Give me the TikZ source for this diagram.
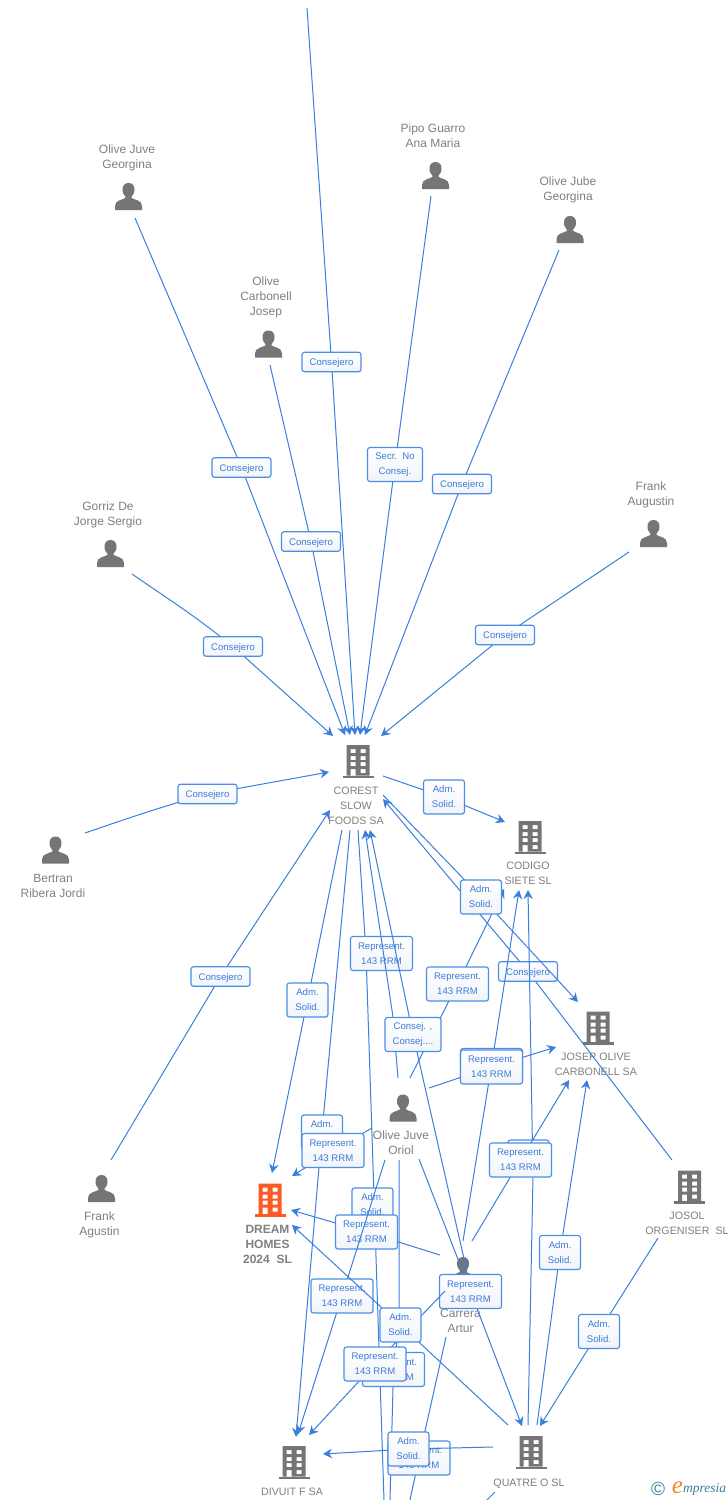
\documentclass[tikz,border=0pt]{standalone}
\usepackage{fontspec}
\setmainfont{Liberation Sans}
\newfontfamily\logofont{Liberation Serif}
\usetikzlibrary{arrows.meta}
\definecolor{linkblue}{HTML}{3B7FDE}
\definecolor{boxedge}{HTML}{4C8DE6}
\definecolor{boxtext}{HTML}{3B7BD8}
\definecolor{boxlow}{HTML}{F1F4F9}
\definecolor{iconpale}{HTML}{757575}
\definecolor{iconhot}{HTML}{FF5A26}
\definecolor{nametext}{HTML}{808080}
\definecolor{logoteal}{HTML}{3C7F99}
\definecolor{logoorange}{HTML}{F28A1E}
\newcommand\personicon{\begin{tikzpicture}[x=1pt,y=-1pt]
\fill[iconpale] (0,-13.5) .. controls (-4.2,-13.5) and (-6,-10.5) .. (-6,-7)
 .. controls (-6,-3.5) and (-4.5,-1.5) .. (-3.2,0) -- (-3.2,1.5)
 .. controls (-6,3.5) and (-13.5,3.5) .. (-13.5,9.5) -- (-13.5,13.5) -- (13.5,13.5) -- (13.5,9.5)
 .. controls (13.5,3.5) and (6,3.5) .. (3.2,1.5) -- (3.2,0)
 .. controls (4.5,-1.5) and (6,-3.5) .. (6,-7)
 .. controls (6,-10.5) and (4.2,-13.5) .. (0,-13.5) -- cycle;
\end{tikzpicture}}
\newcommand\buildingicon[1]{\begin{tikzpicture}[x=1pt,y=-1pt]
\fill[#1,even odd rule] (-11.5,-16.5) rectangle (11.5,14)
 (-7.5,-12.5) rectangle (-2.5,-8.5) (2.5,-12.5) rectangle (7.5,-8.5)
 (-7.5,-5.5) rectangle (-2.5,-1.5) (2.5,-5.5) rectangle (7.5,-1.5)
 (-7.5,0.5) rectangle (-2.5,4.5) (2.5,0.5) rectangle (7.5,4.5)
 (-7.5,7.5) rectangle (-2.5,14) (2.5,7.5) rectangle (7.5,11.5);
\fill[#1] (-15.5,14) rectangle (15.5,16.5);
\end{tikzpicture}}
\tikzset{
 conn/.style={draw=linkblue,line width=1pt},
 arr/.style={conn,-{Stealth[length=9pt,width=9.5pt,inset=3pt]}},
 tagbox/.style={draw=boxedge,line width=1.15pt,rounded corners=2.5pt,top color=white,bottom color=boxlow,
  text=boxtext,font=\fontsize{9.6}{15}\selectfont,align=center,inner sep=0pt},
 tagrep/.style={tagbox,minimum width=62pt,minimum height=34pt},
 tagadm/.style={tagbox,minimum width=41pt,minimum height=34pt},
 tagcons/.style={tagbox,minimum width=59pt,minimum height=19.5pt,text height=8.5pt,text depth=1.5pt},
 iconnode/.style={inner sep=0pt,outer sep=0pt},
 entname/.style={text=nametext,font=\fontsize{12}{15}\selectfont,align=center,inner sep=0pt},
 firmname/.style={entname,font=\fontsize{10.7}{15}\selectfont},
 firmbold/.style={entname,font=\fontsize{12}{15}\selectfont\bfseries},
}
\begin{document}
\begin{tikzpicture}[x=1pt,y=-1pt]
\useasboundingbox (0,0) rectangle (728,1500);
\fill[white] (0,0) rectangle (728,1500);
% entities
\node[iconnode] (pGeorgina) at (128.5,196.5) {\personicon};
\node[entname] (tGeorgina) at (127,157.5) {Olive Juve\\Georgina};
\node[iconnode] (pPipo) at (435.5,175.5) {\personicon};
\node[entname] (tPipo) at (433,136) {Pipo Guarro\\Ana Maria};
\node[iconnode] (pJube) at (570,229.5) {\personicon};
\node[entname] (tJube) at (568,190) {Olive Jube\\Georgina};
\node[iconnode] (pJosep) at (268.5,344) {\personicon};
\node[entname] (tJosep) at (266,297.5) {Olive\\Carbonell\\Josep};
\node[iconnode] (pAugustin) at (653.5,533.5) {\personicon};
\node[entname] (tAugustin) at (651,495) {Frank\\Augustin};
\node[iconnode] (pGorriz) at (110.5,553.5) {\personicon};
\node[entname] (tGorriz) at (108,515) {Gorriz De\\Jorge Sergio};
\node[iconnode] (pBertran) at (55.5,850) {\personicon};
\node[entname] (tBertran) at (53,886) {Bertran\\Ribera Jordi};
\node[iconnode] (pAgustin) at (101.5,1188.5) {\personicon};
\node[entname] (tAgustin) at (99.5,1224.5) {Frank\\Agustin};
\node[iconnode] (pOriol) at (403,1108) {\personicon};
\node[entname] (tOriol) at (401,1143) {Olive Juve\\Oriol};
\node[iconnode] (pCarrera) at (463,1270.5) {\personicon};
\node[entname] (tCarrera) at (460.5,1320.5) {Carrera\\Artur};
\node[iconnode] (bCorest) at (358,761.5) {\buildingicon{iconpale}};
\node[firmname] (tCorest) at (356,806) {COREST\\SLOW\\FOODS SA};
\node[iconnode] (bCodigo) at (530,837.5) {\buildingicon{iconpale}};
\node[firmname] (tCodigo) at (528,873.5) {CODIGO\\SIETE SL};
\node[iconnode] (bCarbonell) at (598,1028) {\buildingicon{iconpale}};
\node[firmname] (tCarbonell) at (596,1064.5) {JOSEP OLIVE\\CARBONELL SA};
\node[iconnode] (bJosol) at (689.5,1187) {\buildingicon{iconpale}};
\node[firmname] (tJosol) at (687,1223.5) {JOSOL\\ORGENISER~~SL};
\node[iconnode] (bDream) at (270,1200) {\buildingicon{iconhot}};
\node[firmbold] (tDream) at (267.5,1244) {DREAM\\HOMES\\2024~~SL};
\node[iconnode] (bDivuit) at (294,1462.5) {\buildingicon{iconpale}};
\node[firmname] (tDivuit) at (292,1492) {DIVUIT F SA};
\node[iconnode] (bQuatre) at (531,1452.5) {\buildingicon{iconpale}};
\node[firmname] (tQuatre) at (529,1483.5) {QUATRE O SL};
% anchor points of the connectors
\coordinate (topfree) at (307,8);
\coordinate (inA) at (333,736);
\coordinate (inB) at (345,735);
\coordinate (inC) at (350,735);
\coordinate (inD) at (355,735);
\coordinate (inE) at (360,735);
\coordinate (inF) at (365,735);
\coordinate (inG) at (381,736);
\coordinate (inH) at (329,772);
\coordinate (inI) at (330,810);
\coordinate (inJ) at (383,799);
\coordinate (inK) at (365,830);
\coordinate (inL) at (370,830);
\coordinate (c1) at (135,218);
\coordinate (c2) at (270,365);
\coordinate (c3) at (431,196);
\coordinate (c4) at (559,250);
\coordinate (c5) at (629,552);
\coordinate (c6) at (132,574);
\coordinate (c7) at (85,833);
\coordinate (c8) at (111,1160);
\coordinate (d1) at (383,776);
\coordinate (d2) at (505,822);
\coordinate (d3) at (383,795);
\coordinate (d4) at (578,1002);
\coordinate (d5) at (672,1160);
\coordinate (d6) at (342,830);
\coordinate (d7) at (272,1173);
\coordinate (d8) at (350,830);
\coordinate (d9) at (296,1437);
\coordinate (d10) at (358,830);
\coordinate (dbend) at (366,953);
\coordinate (d11) at (384,1500);
\coordinate (e1) at (398,1078);
\coordinate (ebend) at (393,1017);
\coordinate (e2) at (467,1272);
\coordinate (e3) at (410,1078);
\coordinate (e4) at (504,889);
\coordinate (e5) at (429,1088);
\coordinate (e6) at (556,1047);
\coordinate (e7) at (463,1241);
\coordinate (e8) at (519,890);
\coordinate (e9) at (528,1425);
\coordinate (e9bend) at (533,1177);
\coordinate (e10) at (528,890);
\coordinate (e11) at (472,1241);
\coordinate (e12) at (569,1080);
\coordinate (e13) at (537,1425);
\coordinate (e14) at (587,1080);
\coordinate (e15) at (658,1238);
\coordinate (e16) at (540,1426);
\coordinate (e17) at (419,1159);
\coordinate (e18) at (522,1426);
\coordinate (f1) at (440,1255);
\coordinate (f2) at (291,1210);
\coordinate (f3) at (372,1128);
\coordinate (f4) at (292,1176);
\coordinate (f5) at (385,1160);
\coordinate (f6) at (298,1434);
\coordinate (f7) at (399,1160);
\coordinate (f7bend) at (399,1325);
\coordinate (f8) at (390,1500);
\coordinate (f9) at (445,1291);
\coordinate (f10) at (309,1435);
\coordinate (f11) at (508,1425);
\coordinate (f12) at (292,1225);
\coordinate (f13) at (493,1447);
\coordinate (f14) at (323,1454);
\coordinate (f15) at (446,1337);
\coordinate (f16) at (410,1500);
\coordinate (f17) at (495,1492);
\coordinate (f18) at (487,1500);
% label centres
\coordinate (lTop) at (331.5,362);
\coordinate (lGeorgina) at (241.5,467.5);
\coordinate (lJosep) at (311,541.5);
\coordinate (lPipo) at (395,464.5);
\coordinate (lJube) at (462,484);
\coordinate (lAugustin) at (505,635);
\coordinate (lGorriz) at (233,646.5);
\coordinate (lBertran) at (207.5,794);
\coordinate (lAgustin) at (220.5,976.5);
\coordinate (lCodigo) at (444,797);
\coordinate (lCarbonell) at (481,897);
\coordinate (lJosol) at (528,971.5);
\coordinate (lDream) at (307.5,1000);
\coordinate (lDivuit) at (322,1132);
\coordinate (lRepA) at (381.5,953.5);
\coordinate (lSolidC) at (372.5,1205);
\coordinate (lConsej) at (413,1034.5);
\coordinate (lRepB) at (457.5,984);
\coordinate (lRepC) at (491.5,1065.5);
\coordinate (lRepD) at (491.5,1067);
\coordinate (lSolidD) at (528.5,1157);
\coordinate (lRepE) at (520.5,1160);
\coordinate (lSolidE) at (560,1252.5);
\coordinate (lSolidF) at (599,1331.5);
\coordinate (lRepF) at (470.5,1291.5);
\coordinate (lRepG) at (366.5,1232);
\coordinate (lRepH) at (333,1150.5);
\coordinate (lRepI) at (342,1296);
\coordinate (lRepJ) at (393.5,1369.5);
\coordinate (lRepK) at (375,1364);
\coordinate (lSolidG) at (400.5,1325);
\coordinate (lRepL) at (419,1458);
\coordinate (lSolidH) at (408.5,1449);
% links, each followed by its label
\draw[arr] (topfree) -- (lTop) -- (inD);
\node[tagcons] (Ltop) at (lTop) {Consejero};
\draw[arr] (c1) -- (lGeorgina) -- (inB);
\node[tagcons] (Lgeorgina) at (lGeorgina) {Consejero};
\draw[arr] (c2) -- (lJosep) -- (inC);
\node[tagcons] (Ljosep) at (lJosep) {Consejero};
\draw[arr] (c3) -- (lPipo) -- (inE);
\node[tagbox,minimum width=55pt,minimum height=34pt] (Lpipo) at (lPipo) {Secr.~~No\\Consej.};
\draw[arr] (c4) -- (lJube) -- (inF);
\node[tagcons] (Ljube) at (lJube) {Consejero};
\draw[arr] (c5) -- (lAugustin) -- (inG);
\node[tagcons] (Laugustin) at (lAugustin) {Consejero};
\draw[arr] (c6) .. controls (165,597) and (190,612) .. (lGorriz) -- (inA);
\node[tagcons] (Lgorriz) at (lGorriz) {Consejero};
\draw[arr] (c7) .. controls (120,821) and (160,807) .. (lBertran) -- (inH);
\node[tagcons] (Lbertran) at (lBertran) {Consejero};
\draw[arr] (c8) -- (lAgustin) -- (inI);
\node[tagcons] (Lagustin) at (lAgustin) {Consejero};
\draw[arr] (d1) -- (lCodigo) -- (d2);
\node[tagadm] (Lcodigo) at (lCodigo) {Adm.\\Solid.};
\draw[arr] (d5) -- (lJosol) -- (inJ);
\node[tagcons] (Ljosol) at (lJosol) {Consejero};
\draw[arr] (d3) -- (lCarbonell) -- (d4);
\draw[arr] (e3) -- (lRepB) -- (e4);
\node[tagadm] (Lcarbonell) at (lCarbonell) {Adm.\\Solid.};
\node[tagrep] (LrepB) at (lRepB) {Represent.\\143 RRM};
\draw[arr] (d6) -- (lDream) -- (d7);
\node[tagadm] (Ldream) at (lDream) {Adm.\\Solid.};
\draw[arr] (d8) -- (lDivuit) -- (d9);
\node[tagadm] (Ldivuit) at (lDivuit) {Adm.\\Solid.};
\draw[conn] (d10) -- (dbend) -- (d11);
\node[tagrep] (LrepA) at (lRepA) {Represent.\\143 RRM};
\node[tagadm] (LsolidC) at (lSolidC) {Adm.\\Solid.};
\draw[arr] (e1) -- (ebend) -- (inK);
\draw[arr] (e2) -- (lConsej) -- (inL);
\node[tagbox,minimum width=56pt,minimum height=34pt] (Lconsej) at (lConsej) {Consej. ,\\Consej....};
\draw[arr] (e7) -- (lRepC) -- (e8);
\node[tagrep] (LrepC) at (lRepC) {};
\draw[arr] (e5) -- (lRepD) -- (e6);
\node[tagrep] (LrepD) at (lRepD) {Represent.\\143 RRM};
\draw[arr] (e9) -- (e9bend) -- (e10);
\node[tagadm] (LsolidD) at (lSolidD) {Adm.\\Solid.};
\draw[arr] (e11) -- (lRepE) -- (e12);
\node[tagrep] (LrepE) at (lRepE) {Represent.\\143 RRM};
\draw[arr] (e13) -- (lSolidE) -- (e14);
\node[tagadm] (LsolidE) at (lSolidE) {Adm.\\Solid.};
\draw[arr] (e15) -- (lSolidF) -- (e16);
\node[tagadm] (LsolidF) at (lSolidF) {Adm.\\Solid.};
\draw[arr] (e17) -- (lRepF) -- (e18);
\node[tagrep] (LrepF) at (lRepF) {Represent.\\143 RRM};
\draw[arr] (f1) -- (lRepG) -- (f2);
\node[tagrep] (LrepG) at (lRepG) {Represent.\\143 RRM};
\draw[arr] (f3) -- (lRepH) -- (f4);
\node[tagrep] (LrepH) at (lRepH) {Represent.\\143 RRM};
\draw[arr] (f5) -- (lRepI) -- (f6);
\node[tagrep] (LrepI) at (lRepI) {Represent.\\143 RRM};
\draw[conn] (f7) -- (f7bend) -- (lRepJ) -- (f8);
\node[tagrep] (LrepJ) at (lRepJ) {Represent.\\143 RRM};
\draw[arr] (f9) -- (lRepK) -- (f10);
\node[tagrep] (LrepK) at (lRepK) {Represent.\\143 RRM};
\draw[arr] (f11) -- (lSolidG) -- (f12);
\node[tagadm] (LsolidG) at (lSolidG) {Adm.\\Solid.};
\draw[conn] (f15) -- (lRepL) -- (f16);
\node[tagrep] (LrepL) at (lRepL) {Represent.\\143 RRM};
\draw[arr] (f13) -- (lSolidH) -- (f14);
\node[tagadm] (LsolidH) at (lSolidH) {Adm.\\Solid.};
\draw[conn] (f17) -- (f18);
% watermark
\node[text=logoteal,font=\fontsize{19}{19}\selectfont,inner sep=0pt] (logoC) at (658,1489) {©};
\node[text=logoorange,font=\logofont\itshape\fontsize{25}{25}\selectfont,inner sep=0pt] (logoE) at (677.5,1488) {e};
\node[text=logoteal,font=\logofont\itshape\fontsize{13.5}{13.5}\selectfont,inner sep=0pt,anchor=west] (logoM) at (683,1489.5) {mpresia};
\end{tikzpicture}
\end{document}
